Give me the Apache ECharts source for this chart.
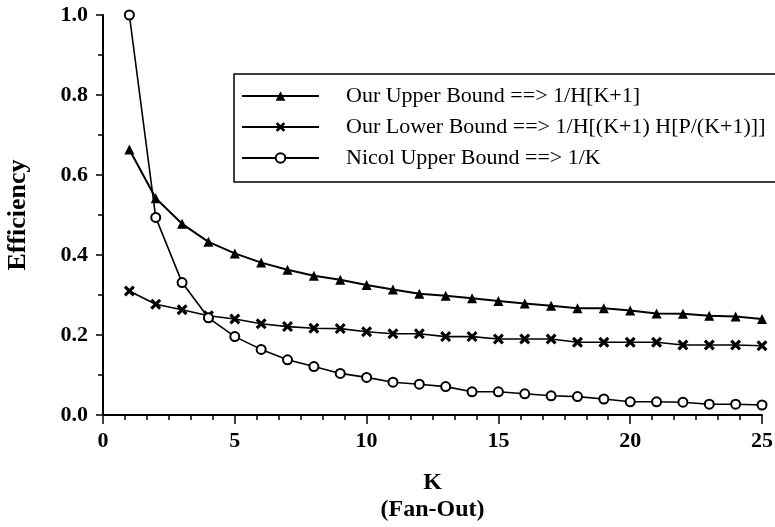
<!DOCTYPE html>
<html>
<head>
<meta charset="utf-8">
<script src="https://cdn.jsdelivr.net/npm/echarts@6/dist/echarts.min.js"></script>
<style>
  html, body { margin: 0; padding: 0; background: #fff; }
  #chart { width: 775px; height: 527px; }
</style>
</head>
<body>
<div id="chart"></div>
<script>
// K values (fan-out) and the three efficiency curves
const kValues = [1, 2, 3, 4, 5, 6, 7, 8, 9, 10, 11, 12, 13, 14, 15, 16, 17, 18, 19, 20, 21, 22, 23, 24, 25];
const upperBound = [0.664, 0.542, 0.478, 0.433, 0.404, 0.381, 0.363, 0.348, 0.338, 0.325, 0.314, 0.303, 0.298, 0.292, 0.285, 0.279, 0.273, 0.267, 0.267, 0.261, 0.254, 0.253, 0.248, 0.246, 0.240];
const lowerBound = [0.310, 0.277, 0.263, 0.248, 0.240, 0.228, 0.221, 0.217, 0.216, 0.208, 0.203, 0.203, 0.196, 0.196, 0.190, 0.190, 0.190, 0.182, 0.182, 0.182, 0.182, 0.175, 0.175, 0.175, 0.173];
const nicolBound = [1.000, 0.494, 0.331, 0.243, 0.196, 0.164, 0.138, 0.121, 0.104, 0.094, 0.082, 0.077, 0.071, 0.058, 0.058, 0.053, 0.048, 0.046, 0.040, 0.033, 0.033, 0.032, 0.027, 0.027, 0.025];
const seriesNames = [
  'Our Upper Bound ==> 1/H[K+1]',
  'Our Lower Bound ==> 1/H[(K+1) H[P/(K+1)]]',
  'Nicol Upper Bound ==> 1/K'
];

const serif = '"Liberation Serif", "Times New Roman", serif';
const crossPath = 'path://M0,2 L2,0 L5,3 L8,0 L10,2 L7,5 L10,8 L8,10 L5,7 L2,10 L0,8 L3,5 Z';

function pairs(vals) {
  return kValues.map((k, i) => [k, vals[i]]);
}

let chart = echarts.init(document.getElementById('chart'), null, { renderer: 'canvas' });

let option = {
  animation: false,
  backgroundColor: '#fff',
  grid: { left: 103, right: 13, top: 15, bottom: 112, outerBoundsMode: 'none' },
  legend: {
    orient: 'vertical',
    left: 234,
    top: 74,
    padding: [11, 200, 13, 7],
    borderColor: '#000',
    borderWidth: 1.5,
    itemWidth: 77,
    itemHeight: 12,
    itemGap: 9,
    textStyle: {
      fontFamily: serif,
      fontSize: 22,
      color: '#000',
      lineHeight: 20,
      padding: [0, 0, 0, 22]
    },
    data: seriesNames
  },
  xAxis: {
    type: 'value',
    min: 0,
    max: 25,
    interval: 5,
    name: '{k|K}\n{f|(Fan-Out)}',
    nameLocation: 'middle',
    nameGap: 54,
    nameTextStyle: {
      rich: {
        k: { fontFamily: serif, fontWeight: 'bold', fontSize: 24, color: '#000', lineHeight: 27 },
        f: { fontFamily: serif, fontWeight: 'bold', fontSize: 24, color: '#000', lineHeight: 27 }
      }
    },
    axisLine: { show: true, lineStyle: { color: '#000', width: 2 } },
    axisTick: { show: true, length: 9, lineStyle: { color: '#000', width: 1.5 } },
    minorTick: { show: true, splitNumber: 6, length: 5, lineStyle: { color: '#000', width: 1.5 } },
    splitLine: { show: false },
    axisLabel: {
      margin: 15,
      fontFamily: serif,
      fontWeight: 'bold',
      fontSize: 22,
      color: '#000'
    }
  },
  yAxis: {
    type: 'value',
    min: 0,
    max: 1,
    interval: 0.2,
    name: 'Efficiency',
    nameLocation: 'middle',
    nameGap: 72,
    nameTextStyle: { fontFamily: serif, fontWeight: 'bold', fontSize: 26, color: '#000' },
    axisLine: { show: true, lineStyle: { color: '#000', width: 2 } },
    axisTick: { show: true, length: 7, lineStyle: { color: '#000', width: 1.5 } },
    minorTick: { show: true, splitNumber: 2, length: 5, lineStyle: { color: '#000', width: 1.5 } },
    splitLine: { show: false },
    axisLabel: {
      margin: 15,
      fontFamily: serif,
      fontWeight: 'bold',
      fontSize: 22,
      color: '#000',
      formatter: v => v.toFixed(1)
    }
  },
  series: [
    {
      name: seriesNames[0],
      type: 'line',
      data: pairs(upperBound),
      symbol: 'triangle',
      symbolSize: 10,
      lineStyle: { color: '#000', width: 2 },
      itemStyle: { color: '#000' }
    },
    {
      name: seriesNames[1],
      type: 'line',
      data: pairs(lowerBound),
      symbol: crossPath,
      symbolSize: 11,
      lineStyle: { color: '#000', width: 1.6 },
      itemStyle: { color: '#000' }
    },
    {
      name: seriesNames[2],
      type: 'line',
      data: pairs(nicolBound),
      symbol: 'emptyCircle',
      symbolSize: 9,
      lineStyle: { color: '#000', width: 1.6 },
      itemStyle: { color: '#000', borderColor: '#000', borderWidth: 1.8 }
    }
  ]
};

chart.setOption(option);
</script>
</body>
</html>
